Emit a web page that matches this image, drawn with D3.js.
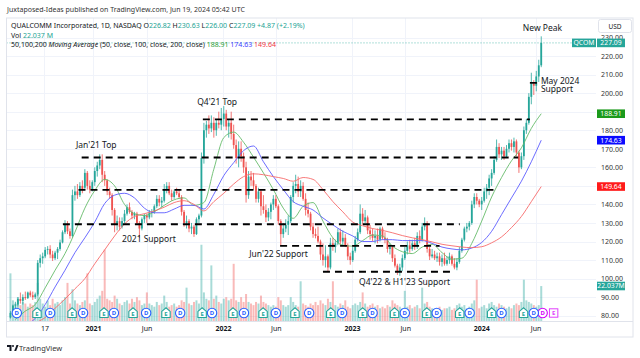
<!DOCTYPE html>
<html>
<head>
<meta charset="utf-8">
<script src="https://cdn.jsdelivr.net/npm/d3@7/dist/d3.min.js"></script>
<style>
html,body{margin:0;padding:0;background:#ffffff;overflow:hidden;}
svg{display:block;}
text{font-family:"Noto Sans",Roboto,"DejaVu Sans",sans-serif;}
</style>
</head>
<body>
<svg id="chart" width="640" height="358"></svg>
<script>
// ================= DATA =================
const candleStart = "2020-05-11";            // Monday of the first weekly candle
// weekly [open, high, low, close]
const ohlc = [
[79,82.5,78.5,81.5],[81.5,86,81,85.5],[85.5,87.5,84,86],[86,90,85,89],[89,92.5,86.5,88],
[88,91.5,86,90],[90,93,88.5,89.5],[89.5,93,89,92.5],[92.5,93.5,90,91],[91,93,88.5,90],
[90,92.5,89,91.5],[91.5,110,90.5,108.5],[108.5,113,106,111],[111,114,108,112],[112,117,111,115.5],
[115.5,117.5,113,116],[116,118,111,113],[113,115,109.5,111],[111,115,110,114],[114,117,110.5,116],
[116,121,115,119.5],[119.5,126,119,125],[125,131.5,124,129],[129,131,124,125.5],[125.5,127,121.5,123],
[123,148,122,145],[145,150,142,147],[147,151,143,145],[145,152,144,150],[150,153,146,148],
[149,159,148,157],[157,158,148,150],[150,153,146,148],[148,153,147,152],
[152,160,150,158],[158,163,155,161],[161,167,159,164],[164,167,152,156],[156,158,150,153],
[153,153.5,145,147],[147,149,143,145],[145,146,134,137],[137,138,125,129],[129,134,126,131],
[131,133,126,128],[128,133,127,131],[131,137,130,135],[135,140,134,138.5],[138.5,141,135,136],
[136,137,132,134],[134,136,132,135],[135,136,129,130],[130,131,122,127],[127,133,126,132],
[132,135,130,134],[134,135,130,133],[133,137,132,135.5],[135.5,137.5,133,136],[136,140,135,139],
[139,145,138,143],[143,145,139,141],[141,144,138.5,142],[142,151,141,148],[148,152,146,150],
[150,152,145,146],[146,148,142,144],[144,148,143,147],[147,149,145,146],[146,148,143,144],
[144,145,134,136],[136,137,128,130],[130,134,127,131],[131,132,125,127],[127,130,124,128],
[128,129,122.5,124],[124,133,123.5,132],[132,135,130,134],[134,168,133,165],[165,184,162,180],
[180,185,176,183],[183,188,178,181],[181,188,179,184],[184,187,176,180],[180,186,177,184],
[184,190,181,183],[183,192,180,186],[186,193,182,189],[189,191,180,182],[182,186,176,184],
[184,190,175,178],[178,183,170,172],[172,175,162,165],[165,174,160,170],[170,174,163,166],
[166,168,157,160],[160,163,141,145],[145,158,143,155],[155,158,150,153],[153,157,148,150],
[150,151,141,143],[143,149,141,147],[147,148,134,139],[139,145,135,137],[137,140,130.5,133],
[133,138,131,136],[136,141,132,140],[140,145,137,143],[143,145,138,139],[139,140,129,131],
[131,132,118,124],[124,130,122,127],[127,132,125,129],[129,134,123.5,131],[131,145,130,144],
[144,152,141,150],[150,156,146,151],[151,155,144,147],[147,153,144,150],[150,152,142,143],
[143,146,134,137],[137,141,133,135],[135,136,126,128],[128,130,122,124],[124,127,121.7,123],
[123,128,119,120],[120,121,110,113],[113,119,107,110],[110,118,106,112],[112,113,103.5,106],
[106,122,105,119],[119,122,115,117],[117,121,114,119],[119,127,118,125],[125,127,118,120],
[120,126,118,122],[122,124,117,118],[118,119,110,112],[112,114,107.5,110],[110,117,109,115],
[115,123,114,121],[121,127,120,125],[125,140,124,135],[135,138,129,131],[131,137,130,133],
[133,134,124,126],[126,129,121,124],[124,127,120,122],[122,126,119,123],[123,127,119,121],
[121,128,120,127],[127,128,121,122],[122,125,119,121],[121,122,114,116],[116,119,113,117],
[117,118,109,111],[111,113,106,107],[107,108,102,104],[104,108,101.5,106],[106,113,104,111],
[111,117,110,115],[115,120,113,118],[118,121,114,116],[116,121,115,119],[119,122,115.5,117],
[117,125,116,123],[123,126,119,121],[121,130,120,128],[128,133,126,130],[130,131,114,116],
[116,117,110,112],[112,116,111,113],[113,115,110,111],[111,114,109,112],[112,114,107,109],
[109,113,106.5,111],[111,114,107,108],[108,112,107,110],[110,114,108,112],[112,113,107,108],
[108,111,105,106],[106,111,104.5,109],[109,117,108,115],[115,122,114,121],[121,128,120,127],
[127,130,125,128],[128,131,126,130],[130,142,129,140],[140,146,138,144],[144,146,140,142],
[142,143,138.5,140],[140,144,137,142],[142,149,141,147],[147,151,143,149],[149,156,145,154],
[154,159,150,157],[157,166,156,164],[164,175,163,171],[171,173,165,167],[167,171,164,169],
[169,171,164,166],[166,172,165,170],[170,175,168,173],[173,175,169,171],[171,176,168,174],
[174,175,166,168],[168,169,157,160],[160,168,159,166],[166,182,164,180],[180,186,178,184],
[184,200,183,198],[198,211,194,205],[205,207,199,204],[204,212,201,209],[209,218,206,215],
[215,230.63,214,227.09]
];
// weekly volume (millions, peak day of week)
const volume = [
30,13,11,15,10,12,11,9,11,10, 12,24,14,11,9,13,10,14,11,12,
10,13,15,24,11,20,13,11,10,12, 13,30,11,10,12,14,16,19,45,14,
13,12,16,14,11,10,12,13,11,14, 12,15,13,10,11,18,11,10,9,12,
10,11,16,12,9,10,11,9,10,13, 12,21,11,10,12,13,11,48,18,14,
13,35,14,16,12,11,14,15,13,14, 36,13,12,15,12,17,12,11,10,12,
11,16,12,11,10,9,10,9,15,13, 10,9,10,15,12,10,9,25,11,10,
9,11,10,12,10,13,11,10,14,12, 25,10,9,11,10,13,9,8,10,11,
10,12,18,11,9,10,11,9,10,8, 9,8,10,9,13,11,10,9,8,19,
9,10,8,9,10,8,21,11,12,9, 8,7,8,9,7,8,8,9,7,8,
10,11,9,10,8,9,11,13,26,8, 9,10,8,11,12,10,9,11,10,9,
8,9,8,10,11,10,12,26,13,12, 11,10,9,10,22
];
// moving averages sampled every 4 weeks
const maStart = "2020-05-25";
const maStepWeeks = 4;
const ma50 = [78,82.5,86,95,104.5,113.5,125,138,147.5,153.5,150,140,135,134,136,139.5,142.5,143.5,139.5,141,159,176,179,173.5,165.5,157,148,138,132.5,139,141,131,122,118,117.5,120.5,123.5,123,117.5,114.5,113.5,117,118.5,114,110.5,111,119,131,144,154.5,163.5,170.5,181,188.91];
const ma100 = [72,75,78.5,86,95.5,104.5,114,122,130.5,140.5,145,146,143.5,138,135.5,135.5,137.5,139.5,139.5,137.5,145.5,155.5,162.5,169,171.5,163,155,148,141.5,139,137,132.7,129,125.5,123,120,120,121,121,120.5,120.5,120.5,119,117,116,115.5,116.5,119.5,125.5,134.5,143.5,152.5,163,174.63];
const ma200 = [70,73,76,79,84,89,94.5,100,108,115.5,123,129.5,133.5,135,136.5,138.5,141,142,140,136.5,141.5,146,151,155,156.5,156,155,154,152.5,154.5,153.5,148,141.5,136,130.5,128.5,127,126,124.7,123.2,122,121,119.8,118.5,117.7,117,116.7,117.2,119.3,122.5,127.5,133.5,141.5,149.64];
const maLast = [188.91,174.63,149.64];

const quote = {o:"226.82", h:"230.63", l:"226.00", c:"227.09", chg:"+4.87 (+2.19%)"};
const lastPrice = 227.09;
const lastVolumeLabel = "22.037M";
const lastVolume = 22.037;

const priceTicks = [80,90,100,110,120,130,140,150,160,170,180,190,200,210,220,230];
const timeTicks = ["2020-08-17","2021-01-01","2021-06-01","2022-01-03","2022-06-01","2023-01-02","2023-06-01","2024-01-02","2024-06-03"];
const timeTickLabels = ["17","2021","Jun","2022","Jun","2023","Jun","2024","Jun"];

// support / resistance levels: [price, from, to]
const levels = [
[185.9,"2021-11-07","2024-05-18"],
[165.3,"2020-11-30","2024-04-15"],
[147.8,"2020-11-21","2024-02-14"],
[129.3,"2020-10-08","2023-11-02"],
[117.6,"2022-06-13","2023-09-06"],
[103.7,"2022-10-12","2023-10-13"],
[205.5,"2024-05-18","2024-06-08"]
];
// annotations: [lines, date (left edge), price (centre of first line)]
const annotations = [
[["Jan'21 Top"],"2020-11-14",172.6],
[["Q4'21 Top"],"2021-10-22",195.5],
[["2021 Support"],"2021-03-24",121.7],
[["Jun'22 Support"],"2022-03-18",114],
[["Q4'22 & H1'23 Support"],"2023-01-22",98.9],
[["New Peak"],"2024-04-28",235.5],
[["May 2024","Support"],"2024-06-18",207.1]
];
const earnings = ["2020-07-27","2020-11-03","2021-02-01","2021-04-24","2021-07-26","2021-11-05","2022-01-31","2022-04-26","2022-07-25","2022-11-03","2023-02-01","2023-05-02","2023-08-01","2023-11-02","2024-01-31","2024-04-30"];
const dividends = ["2020-05-31","2020-09-02","2020-12-04","2021-03-01","2021-05-31","2021-09-04","2021-12-03","2022-03-03","2022-06-01","2022-09-03","2022-12-05","2023-03-01","2023-05-31","2023-08-29","2023-11-30","2024-02-28","2024-05-29"];
const futureDividend = "2024-06-23";
const futureEarnings = "2024-07-24";

// ================= CHART =================
const parse = d3.timeParse("%Y-%m-%d");
const svg = d3.select("#chart");
const W = 640, H = 358;
const plot = {left:6.5, right:596, top:18, bottom:321};

const x = d3.scaleTime().domain([parse("2021-01-01"), parse("2024-01-01")]).range([93, 481]);
const y = d3.scaleLinear().domain([80, 230]).range([315.7, 37.5]);
const yVol = d3.scaleLinear().domain([0, 60]).range([plot.bottom, 225.7]);

const UP = "#26a69a", DOWN = "#ef5350";
const TEXT = "#131722";

svg.append("rect").attr("width", W).attr("height", H).attr("fill", "#fff");

svg.append("defs").append("clipPath").attr("id","clip")
  .append("rect").attr("x",plot.left).attr("y",plot.top)
  .attr("width",plot.right-plot.left).attr("height",plot.bottom-plot.top);

// grid
const grid = svg.append("g");
grid.selectAll("line.h").data(priceTicks).join("line")
  .attr("x1",plot.left).attr("x2",plot.right)
  .attr("y1",d=>Math.round(y(d))+0.5).attr("y2",d=>Math.round(y(d))+0.5)
  .attr("stroke","#f0f3fa").attr("stroke-width",1);
grid.selectAll("line.v").data(timeTicks).join("line")
  .attr("x1",d=>Math.round(x(parse(d)))+0.5).attr("x2",d=>Math.round(x(parse(d)))+0.5)
  .attr("y1",plot.top).attr("y2",plot.bottom)
  .attr("stroke","#f0f3fa").attr("stroke-width",1);

const g = svg.append("g").attr("clip-path","url(#clip)");

// candle data
const start = parse(candleStart);
const candles = ohlc.map((d,i)=>({date:d3.timeDay.offset(start, 7*i+2), o:d[0], h:d[1], l:d[2], c:d[3], v:volume[i]}));

// volume
g.append("g").selectAll("rect").data(candles).join("rect")
  .attr("x", d=>x(d.date)-1)
  .attr("width", 2)
  .attr("y", d=>yVol(d.v))
  .attr("height", d=>plot.bottom-yVol(d.v))
  .attr("fill", d=>d.c>=d.o ? UP : DOWN)
  .attr("opacity", 0.4);

// wicks
g.append("g").selectAll("line").data(candles).join("line")
  .attr("x1", d=>x(d.date)).attr("x2", d=>x(d.date))
  .attr("y1", d=>y(d.h)).attr("y2", d=>y(d.l))
  .attr("stroke", d=>d.c>=d.o ? UP : DOWN).attr("stroke-width",0.8);
// bodies
g.append("g").selectAll("rect").data(candles).join("rect")
  .attr("x", d=>x(d.date)-0.9)
  .attr("width", 1.8)
  .attr("y", d=>y(Math.max(d.o,d.c)))
  .attr("height", d=>Math.max(0.8, Math.abs(y(d.o)-y(d.c))))
  .attr("fill", d=>d.c>=d.o ? UP : DOWN);

// moving averages
const maStartDate = parse(maStart);
const maColors = ["#66bb6a","#5c5cff","#f76b6b"];
[ma50, ma100, ma200].forEach((arr, j)=>{
  const pts = arr.map((v,i)=>({date:d3.timeDay.offset(maStartDate, 7*maStepWeeks*i+2), v}));
  g.append("path").datum(pts)
    .attr("d", d3.line().x(d=>x(d.date)).y(d=>y(d.v)).curve(d3.curveMonotoneX))
    .attr("fill","none").attr("stroke", maColors[j]).attr("stroke-width",1).attr("opacity",0.9);
});

// levels
g.append("g").selectAll("line").data(levels).join("line")
  .attr("x1", d=>x(parse(d[1]))).attr("x2", d=>x(parse(d[2])))
  .attr("y1", d=>y(d[0])).attr("y2", d=>y(d[0]))
  .attr("stroke","#000").attr("stroke-width",1.8).attr("stroke-dasharray","7,5");

// current price line
g.append("line").attr("x1",plot.left).attr("x2",572).attr("y1",y(lastPrice)).attr("y2",y(lastPrice))
  .attr("stroke",UP).attr("stroke-width",1).attr("stroke-dasharray","1,2").attr("opacity",0.7);

// annotations
const ann = svg.append("g").selectAll("text").data(annotations).join("text")
  .attr("x", d=>x(parse(d[1]))).attr("y", d=>y(d[2]))
  .attr("dominant-baseline","central")
  .attr("font-size", 8.5).attr("fill", TEXT);
ann.each(function(d){
  const t = d3.select(this);
  d[0].forEach((s,i)=>{
    t.append("tspan").attr("x", x(parse(d[1]))).attr("dy", i===0 ? 0 : 8.4).text(s);
  });
});

// event markers
const markY = 313;
const mk = svg.append("g");
function dMarker(date, color){
  const cx = x(parse(date));
  mk.append("circle").attr("cx",cx).attr("cy",markY).attr("r",4.7)
    .attr("fill","#fff").attr("stroke",color).attr("stroke-width",1.1);
  mk.append("text").attr("x",cx).attr("y",markY).attr("text-anchor","middle")
    .attr("dominant-baseline","central").attr("font-size",6).attr("font-weight","bold")
    .attr("fill",color).text("D");
}
function eMarker(date){
  const cx = x(parse(date));
  const pts = [[cx-4.2,markY+4.5],[cx-4.2,markY-1.6],[cx,markY-5.2],[cx+4.2,markY-1.6],[cx+4.2,markY+4.5]];
  mk.append("polygon").attr("points", pts.map(p=>p.join(",")).join(" "))
    .attr("fill","#fff").attr("stroke",UP).attr("stroke-width",1.1);
  mk.append("text").attr("x",cx).attr("y",markY+0.6).attr("text-anchor","middle")
    .attr("dominant-baseline","central").attr("font-size",6).attr("font-weight","bold")
    .attr("fill",UP).text("E");
}
dMarker(futureDividend, "#d500f9");
{
  const cx = x(parse(futureEarnings));
  mk.append("rect").attr("x",cx-4.2).attr("y",markY-4.2).attr("width",8.4).attr("height",8.4)
    .attr("fill","#fff").attr("stroke","#e040fb").attr("stroke-width",1);
  mk.append("text").attr("x",cx).attr("y",markY).attr("text-anchor","middle")
    .attr("dominant-baseline","central").attr("font-size",6).attr("font-weight","bold")
    .attr("fill","#e040fb").text("E");
}
earnings.forEach(d=>eMarker(d));
dividends.forEach(d=>dMarker(d, "#2962ff"));

// frame & separators
svg.append("rect").attr("x",plot.left).attr("y",plot.top).attr("width",633-plot.left).attr("height",337-plot.top)
  .attr("fill","none").attr("stroke","#e0e3eb").attr("stroke-width",1);
svg.append("line").attr("x1",plot.left).attr("x2",633).attr("y1",plot.bottom+0.5).attr("y2",plot.bottom+0.5)
  .attr("stroke","#e0e3eb");

// time axis
const xAxis = d3.axisBottom(x).tickValues(timeTicks.map(parse))
  .tickFormat((d,i)=>timeTickLabels[i]).tickSize(0).tickPadding(0);
const xa = svg.append("g").attr("transform",`translate(0,${plot.bottom})`).call(xAxis);
xa.select(".domain").remove();
xa.selectAll("text").attr("y",8).attr("dy","0.32em")
  .attr("font-size",7).attr("font-family","Noto Sans, sans-serif").attr("fill",TEXT)
  .attr("font-weight",(d,i)=>/^\d{4}$/.test(timeTickLabels[i]) ? "bold" : "normal");

// price axis (labels hidden where a value tag covers them, as in the platform)
const tagYs = [lastPrice, ...maLast].map(v=>y(v));
const yAxis = d3.axisRight(y).tickValues(priceTicks).tickFormat(d=>d.toFixed(2)).tickSize(0).tickPadding(0);
const ya = svg.append("g").attr("transform","translate(601,0)").call(yAxis);
ya.select(".domain").remove();
ya.selectAll("text").attr("font-size",7).attr("font-family","Noto Sans, sans-serif").attr("fill","#333");
ya.selectAll(".tick").filter(d=>tagYs.some(t=>Math.abs(t-y(d))<5)).remove();

// USD box
svg.append("rect").attr("x",598.5).attr("y",19.5).attr("width",33).attr("height",13).attr("rx",2)
  .attr("fill","#fff").attr("stroke","#e0e3eb");
svg.append("text").attr("x",615).attr("y",26).attr("text-anchor","middle").attr("dominant-baseline","central")
  .attr("font-size",6.5).attr("fill",TEXT).text("USD");

// price tags
function tag(yc, label, fill, x0, w){
  svg.append("rect").attr("x",x0).attr("y",yc-4.3).attr("width",w).attr("height",8.6).attr("fill",fill);
  svg.append("text").attr("x",x0+w/2).attr("y",yc).attr("text-anchor","middle").attr("dominant-baseline","central")
    .attr("font-size",6.8).attr("fill","#fff").text(label);
}
tag(y(lastPrice), "QCOM", UP, 572, 24);
tag(y(lastPrice), lastPrice.toFixed(2), UP, 597, 28);
const tagColors = ["#1b9a1b","#0b0bff","#ff1a1a"];
maLast.forEach((v,j)=>tag(y(v), v.toFixed(2), tagColors[j], 597, 28));
tag(yVol(lastVolume), lastVolumeLabel, UP, 597, 28);

// header
svg.append("text").attr("x",7).attr("y",9).attr("dominant-baseline","central")
  .attr("font-size",7).attr("fill","#333")
  .text("Juxtaposed-Ideas published on TradingView.com, Jun 19, 2024 05:42 UTC");
const VAL = "#22a394";
function line(yc, parts){
  const t = svg.append("text").attr("x",11).attr("y",yc).attr("dominant-baseline","central").attr("font-size",7);
  parts.forEach(p=>{
    const s = t.append("tspan").attr("fill",p[1]).text(p[0]);
    if(p[2]) s.attr("font-style",p[2]);
  });
}
line(25, [["QUALCOMM Incorporated, 1D, NASDAQ  ",TEXT],["O",TEXT],[quote.o,VAL],[" H",TEXT],[quote.h,VAL],
  [" L",TEXT],[quote.l,VAL],[" C",TEXT],[quote.c,VAL],[" "+quote.chg,VAL]]);
line(34.5, [["Vol  ",TEXT],[lastVolumeLabel.replace("M"," M"),VAL]]);
line(44, [["50,100,200 ",TEXT],["Moving Average",TEXT,"italic"],[" (50, close, 100, close, 200, close)  ",TEXT],
  [maLast[0].toFixed(2),"#2e9e3a"],["  "+maLast[1].toFixed(2),"#3d3dff"],["  "+maLast[2].toFixed(2),"#f23645"]]);

// footer logo
const logo = svg.append("g").attr("transform","translate(7,345)");
logo.append("path").attr("d","M0,0 H4.5 V6 H2.5 V2 H0 Z").attr("fill","#131722");
logo.append("circle").attr("cx",6).attr("cy",1).attr("r",1).attr("fill","#131722");
logo.append("path").attr("d","M7.2,6 L9.5,0 H11.5 L9.2,6 Z").attr("fill","#131722");
svg.append("text").attr("x",19).attr("y",348).attr("dominant-baseline","central")
  .attr("font-size",7.5).attr("fill","#333").text("TradingView");
</script>
</body>
</html>
